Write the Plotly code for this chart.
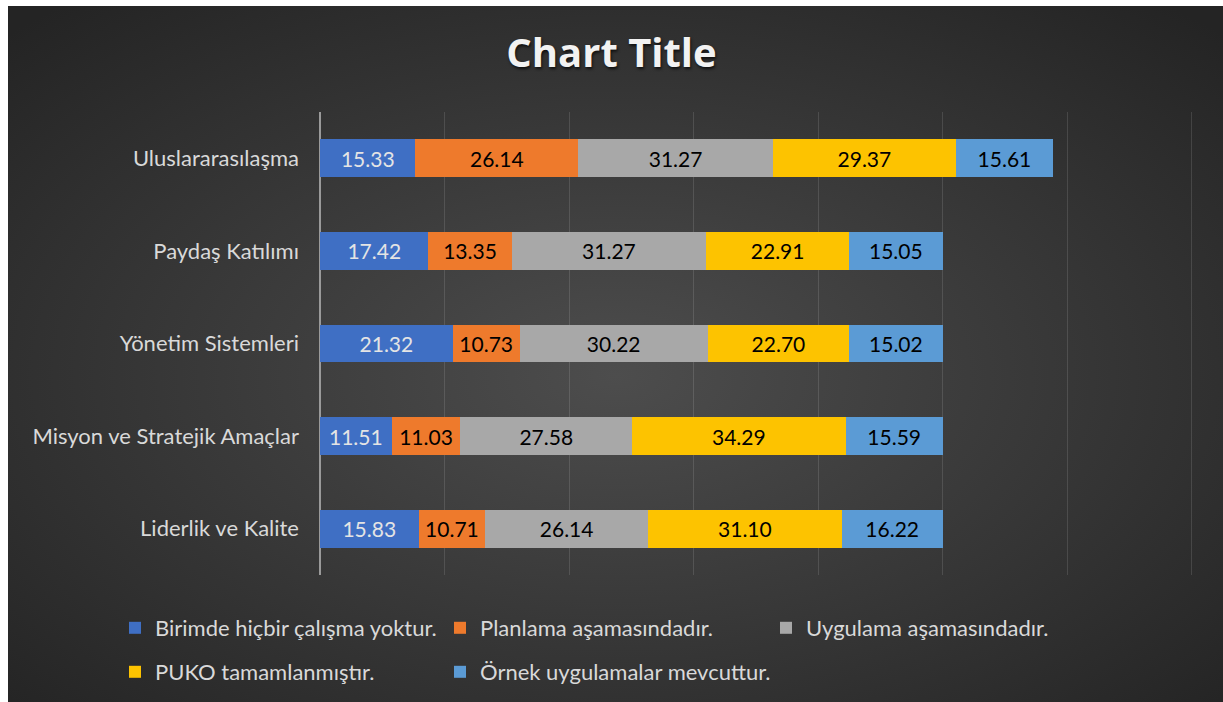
import plotly.graph_objects as go
from urllib.parse import quote

categories = ["Liderlik ve Kalite", "Misyon ve Stratejik Amaçlar", "Yönetim Sistemleri",
              "Paydaş Katılımı", "Uluslararasılaşma"]
series_names = ["Birimde hiçbir çalışma yoktur.", "Planlama aşamasındadır.",
                "Uygulama aşamasındadır.", "PUKO tamamlanmıştır.", "Örnek uygulamalar mevcuttur."]
birimde = [15.83, 11.51, 21.32, 17.42, 15.33]
planlama = [10.71, 11.03, 10.73, 13.35, 26.14]
uygulama = [26.14, 27.58, 30.22, 31.27, 31.27]
puko = [31.10, 34.29, 22.70, 22.91, 29.37]
ornek = [16.22, 15.59, 15.02, 15.05, 15.61]

series_values = [birimde, planlama, uygulama, puko, ornek]
colors = ["#3f6fc4", "#ee7a2c", "#a8a8a8", "#fdc300", "#5b9bd5"]
text_colors = ["#e4e4e4", "#000000", "#000000", "#000000", "#000000"]
legend_ids = ["legend", "legend2", "legend3", "legend4", "legend5"]

FONT = "Lato"

W, H = 1223, 702
L, R, T, B = 320, 25, 112, 127
pw, ph = W - L - R, H - T - B

fig = go.Figure()
for name, vals, col, tcol, lg in zip(series_names, series_values, colors, text_colors, legend_ids):
    fig.add_trace(go.Bar(
        y=categories, x=vals, name=name, orientation="h",
        marker=dict(color=col, line=dict(width=0)),
        text=[f"{v:.2f}" for v in vals], textposition="inside",
        insidetextanchor="middle", textangle=0, constraintext="none",
        textfont=dict(family=FONT, size=21, color=tcol),
        legend=lg,
    ))

# dark chart area with radial gradient (starts at x=8, y=6 on a white page)
BX, BY = 8, 6
BW, BH = W - BX, H - BY
svg = (f'<svg xmlns="http://www.w3.org/2000/svg" width="{BW}" height="{BH}" viewBox="0 0 {BW} {BH}">'
       '<defs><radialGradient id="g" cx="50%" cy="53%" r="70%">'
       '<stop offset="0%" stop-color="#4d4d4d"/><stop offset="100%" stop-color="#242424"/>'
       f'</radialGradient></defs><rect width="{BW}" height="{BH}" fill="url(#g)"/></svg>')
src = "data:image/svg+xml;charset=utf-8," + quote(svg)

legend_text_x = [155, 480, 806, 155, 480]
legend_row_y = [628, 628, 628, 672, 672]
legend_font = dict(family=FONT, size=22, color="#d9d9d9")

layout_legends = {}
for lg, tx, ry in zip(legend_ids, legend_text_x, legend_row_y):
    layout_legends[lg] = dict(orientation="h", xref="container", yref="container",
                              x=(tx - 40) / W, y=(H - ry) / H, xanchor="left", yanchor="middle",
                              bgcolor="rgba(0,0,0,0)", font=legend_font)

fig.update_layout(
    width=W, height=H,
    barmode="stack", bargap=0.59,
    paper_bgcolor="white", plot_bgcolor="rgba(0,0,0,0)",
    margin=dict(l=L, r=R, t=T, b=B),
    title=dict(text="<b>Chart Title</b>", x=0.5, xref="container", xanchor="center",
               y=(H - 53) / H, yref="container", yanchor="middle",
               font=dict(family="Open Sans", size=40, color="#f2f2f2",
                         shadow="1px 2px 3px rgba(0,0,0,0.7)")),
    xaxis=dict(range=[0, 141], tick0=0, dtick=20, showticklabels=False, showgrid=True,
               gridcolor="rgba(255,255,255,0.12)", gridwidth=1,
               zeroline=True, zerolinecolor="#9a9a9a", zerolinewidth=2, fixedrange=True),
    yaxis=dict(showgrid=False, ticklabelstandoff=20, ticks="",
               tickfont=dict(family=FONT, size=22, color="#d9d9d9"),
               categoryorder="array", categoryarray=categories),
    images=[dict(source=src, xref="paper", yref="paper",
                 x=(BX - L) / pw, y=1 + (T - BY) / ph, sizex=BW / pw, sizey=BH / ph,
                 xanchor="left", yanchor="top", sizing="stretch", layer="below")],
    showlegend=True,
    **layout_legends,
)

fig.write_html("out.html", config={"displayModeBar": False},
               post_script="document.body.style.margin='0';document.body.style.overflow='hidden';"
                           "document.documentElement.style.overflow='hidden';")
